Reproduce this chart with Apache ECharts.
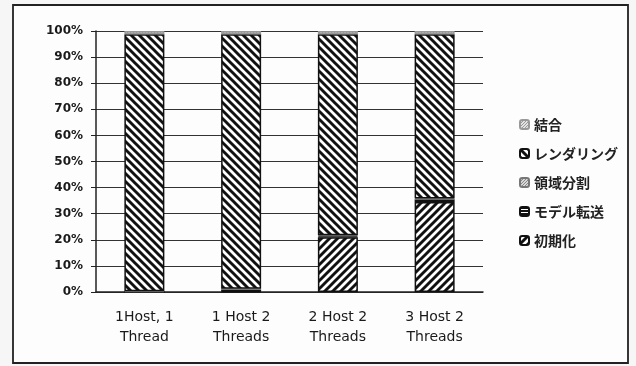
<!DOCTYPE html>
<html>
<head>
<meta charset="utf-8">
<script src="https://cdn.jsdelivr.net/npm/echarts@6/dist/echarts.min.js"></script>
<style>
    html, body { margin: 0; padding: 0; background: #f6f6f6; }
    #chart { width: 636px; height: 366px; }
</style>
</head>
<body>
<div id="chart"></div>
<script>
var categories = ['1Host, 1\nThread', '1 Host 2\nThreads', '2 Host 2\nThreads', '3 Host 2\nThreads'];
var seriesNames = ['初期化', 'モデル転送', '領域分割', 'レンダリング', '結合'];
var initData = [0, 0.2, 21, 34.5];
var transferData = [0, 0.8, 0.4, 1.0];
var splitData = [0.3, 0.2, 0.3, 0.3];
var renderData = [98.5, 97.6, 77.1, 63.0];
var mergeData = [1.2, 1.2, 1.2, 1.2];

(function () {
    // 斜線パターン
    function hatch(dir) {
        var s = 8, c = document.createElement('canvas');
        c.width = s; c.height = s;
        var ctx = c.getContext('2d');
        ctx.fillStyle = '#fff';
        ctx.fillRect(0, 0, s, s);
        ctx.strokeStyle = '#111';
        ctx.lineWidth = 2.9;
        ctx.beginPath();
        if (dir === '/') {
            ctx.moveTo(0, s); ctx.lineTo(s, 0);
            ctx.moveTo(-2, 2); ctx.lineTo(2, -2);
            ctx.moveTo(s - 2, s + 2); ctx.lineTo(s + 2, s - 2);
        } else {
            ctx.moveTo(0, 0); ctx.lineTo(s, s);
            ctx.moveTo(-2, s - 2); ctx.lineTo(2, s + 2);
            ctx.moveTo(s - 2, -2); ctx.lineTo(s + 2, 2);
        }
        ctx.stroke();
        return {image: c, repeat: 'repeat'};
    }

    function horiz() {
        var c = document.createElement('canvas');
        c.width = 4; c.height = 3;
        var ctx = c.getContext('2d');
        ctx.fillStyle = '#fff';
        ctx.fillRect(0, 0, 4, 3);
        ctx.fillStyle = '#111';
        ctx.fillRect(0, 0, 4, 2);
        return {image: c, repeat: 'repeat'};
    }

    function dots(bg, fg) {
        var c = document.createElement('canvas');
        c.width = 3; c.height = 3;
        var ctx = c.getContext('2d');
        ctx.fillStyle = bg;
        ctx.fillRect(0, 0, 3, 3);
        ctx.fillStyle = fg;
        ctx.fillRect(0, 0, 1, 1);
        ctx.fillRect(2, 1, 1, 1);
        ctx.fillRect(1, 2, 1, 1);
        return {image: c, repeat: 'repeat'};
    }

    var fills = [hatch('/'), horiz(), dots('#d8d8d8', '#888'), hatch('\\'), dots('#e4e4e4', '#999')];
    var borders = ['#111', '#111', '#777', '#111', '#999'];
    var dataList = [initData, transferData, splitData, renderData, mergeData];

    var series = [];
    for (var i = 0; i < seriesNames.length; i++) {
        series.push({
            name: seriesNames[i],
            type: 'bar',
            stack: 'total',
            barWidth: 40,
            data: dataList[i],
            itemStyle: {color: fills[i], borderColor: borders[i], borderWidth: 1.5},
            emphasis: {disabled: true}
        });
    }

    var chart = echarts.init(document.getElementById('chart'));
    chart.setOption({
        backgroundColor: '#f6f6f6',
        animation: false,
        graphic: [{
            type: 'rect',
            shape: {x: 13, y: 5, width: 615, height: 358},
            style: {fill: '#fdfdfd', stroke: '#222', lineWidth: 1.8},
            z: -10
        }],
        grid: {left: 96, right: 153, top: 31, bottom: 74},
        legend: {
            orient: 'vertical',
            left: 514,
            top: 112,
            itemWidth: 9,
            itemHeight: 9,
            itemGap: 14,
            data: seriesNames.slice().reverse(),
            textStyle: {fontFamily: 'Noto Sans CJK JP', fontSize: 14, fontWeight: 'bold', color: '#222', lineHeight: 15}
        },
        xAxis: {
            type: 'category',
            data: categories,
            axisLine: {lineStyle: {color: '#222', width: 1.5}},
            axisTick: {length: 4, lineStyle: {color: '#222'}},
            axisLabel: {
                margin: 15, fontFamily: 'DejaVu Sans', fontSize: 14, color: '#1a1a1a', lineHeight: 20
            }
        },
        yAxis: {
            type: 'value',
            min: 0,
            max: 100,
            interval: 10,
            axisLine: {show: true, lineStyle: {color: '#222', width: 1.5}},
            axisTick: {show: true, length: 5, lineStyle: {color: '#222'}},
            splitLine: {lineStyle: {color: '#333', width: 1.2}},
            axisLabel: {
                formatter: '{value}%', margin: 13,
                fontFamily: 'DejaVu Sans', fontSize: 12, fontWeight: 'bold', color: '#1a1a1a'
            }
        },
        series: series
    });
})();
</script>
</body>
</html>
